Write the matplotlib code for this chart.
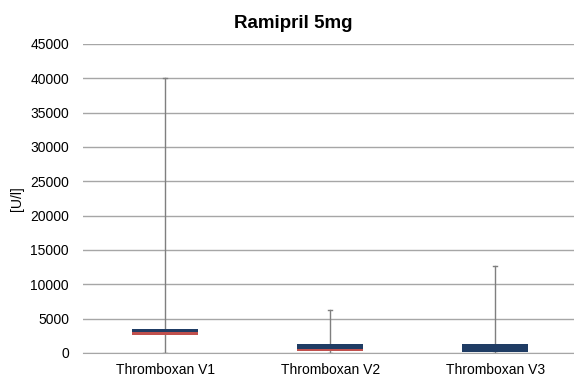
import matplotlib
matplotlib.use("Agg")
import numpy as np
from matplotlib import pyplot as plt

plt.rcParams['font.family'] = ['Liberation Sans', 'DejaVu Sans']

categories = ['Thromboxan V1', 'Thromboxan V2', 'Thromboxan V3']
q1 = [2600, 250, 100]
median = [3050, 540, 190]
q3 = [3530, 1270, 1350]
whisk_max = [40000, 6200, 12600]
whisk_min = [0, 0, 0]

x = np.arange(len(categories))
fig = plt.figure(figsize=(5.74, 3.76), dpi=100)
ax = fig.add_axes([0.1446, 0.0612, 0.862, 0.822])

# excel style box plot: red = q1..median, blue = median..q3
low = np.array(median) - np.array(q1)
high = np.array(q3) - np.array(median)
ax.bar(x, low, 0.4, bottom=q1, color='#c0504d', zorder=3)
ax.bar(x, high, 0.4, bottom=median, color='#1f3c64', zorder=3)

wc = '#7f7f7f'
for i in range(len(x)):
    ax.plot([x[i], x[i]], [q3[i], whisk_max[i]], color=wc, lw=1, zorder=2)
    ax.plot([x[i], x[i]], [whisk_min[i], q1[i]], color=wc, lw=1, zorder=2)
    ax.plot([x[i] - 0.012, x[i] + 0.012], [whisk_max[i]] * 2, color=wc, lw=1, zorder=2)
    ax.plot([x[i] - 0.012, x[i] + 0.012], [whisk_min[i]] * 2, color=wc, lw=1, zorder=2)

ax.set_xlim(-0.5, 2.5)
ax.set_ylim(0, 45000)
ax.set_yticks(np.arange(0, 45001, 5000))
ax.set_xticks(x)
ax.set_xticklabels(categories, fontsize=10)
ax.tick_params(axis='y', labelsize=10, length=0, pad=10)
ax.tick_params(axis='x', length=0, pad=7)
ax.yaxis.grid(True, color='#a6a6a6', lw=1, zorder=0)
ax.set_axisbelow(True)
for s in ['top', 'right', 'left']:
    ax.spines[s].set_visible(False)
ax.spines['bottom'].set_color('#a6a6a6')

fig.text(17 / 574, 1 - 199 / 376, '[U/l]', rotation=90, fontsize=10,
         ha='center', va='center')
fig.text(0.511, 1 - 28 / 376, 'Ramipril 5mg', fontsize=13.5, fontweight='bold',
         ha='center', va='baseline')

plt.savefig('out.png', dpi=100)
